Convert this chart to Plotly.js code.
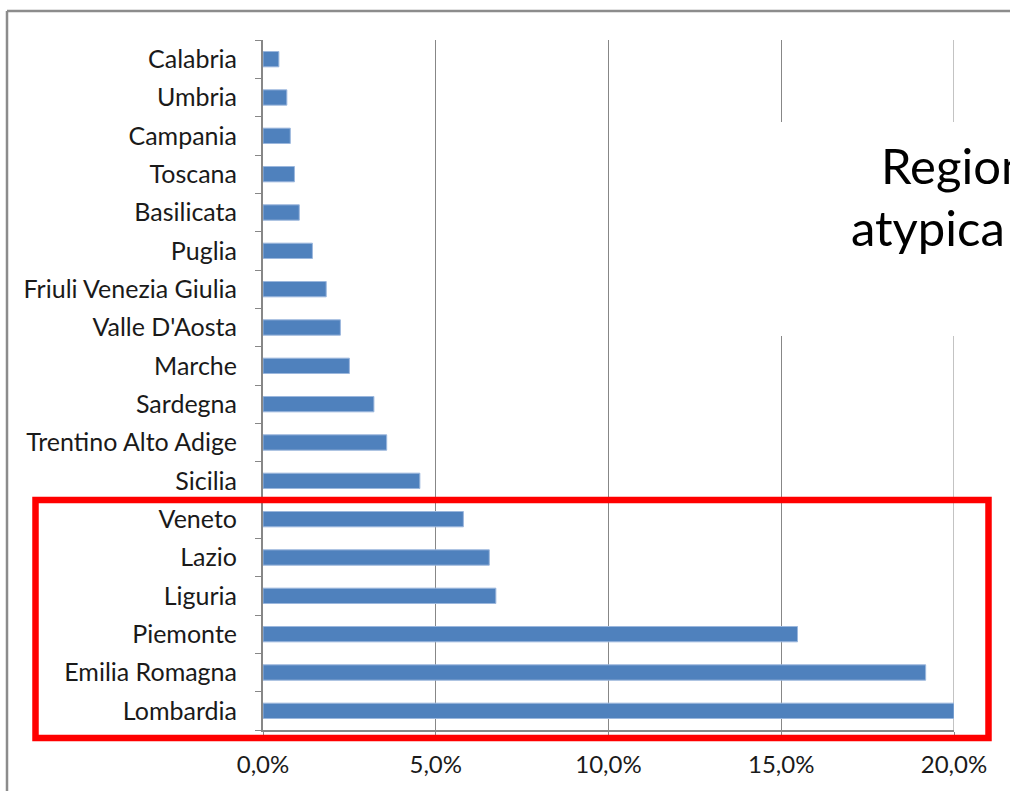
<!DOCTYPE html>
<html>
<head>
<meta charset="utf-8">
<script src="https://cdn.plot.ly/plotly-3.0.1.min.js"></script>
<style>
  html, body { margin: 0; padding: 0; background: #ffffff; }
  #chart { width: 1010px; height: 791px; }
</style>
</head>
<body>
<div id="chart"></div>
<script>
// Regions, listed bottom to top
const regions = [
  "Lombardia", "Emilia Romagna", "Piemonte", "Liguria", "Lazio", "Veneto",
  "Sicilia", "Trentino Alto Adige", "Sardegna", "Marche", "Valle D'Aosta",
  "Friuli Venezia Giulia", "Puglia", "Basilicata", "Toscana", "Campania",
  "Umbria", "Calabria"
];
// Share (fraction)
const shares = [
  0.200, 0.1918, 0.1547, 0.0674, 0.0655, 0.0580,
  0.0454, 0.0358, 0.0321, 0.0250, 0.0224,
  0.0183, 0.0143, 0.0105, 0.0091, 0.0079,
  0.0069, 0.0046
];
const xTicks = [0, 0.05, 0.10, 0.15, 0.20];
const boxLines = ["Regioni", "atypica"];

const W = 691, H = 690, L = 263, TOP = 40;
const px = v => (v - L) / W;
const py = v => (TOP + H - v) / H;

const trace = {
  type: "bar",
  orientation: "h",
  y: regions,
  x: shares,
  marker: { color: "#4f81bd", line: { color: "#9bb7dd", width: 1 } },
  hoverinfo: "none"
};

const font = "Lato, 'Open Sans', sans-serif";
const gridCol = "#878787";

const layout = {
  width: 1010,
  height: 791,
  margin: { l: L, r: 1010 - L - W, t: TOP, b: 791 - TOP - H },
  paper_bgcolor: "#ffffff",
  plot_bgcolor: "#ffffff",
  separators: ",.",
  showlegend: false,
  bargap: 0.6,
  font: { family: font, size: 25, color: "#1a1a1a" },
  xaxis: {
    range: [0, 0.2],
    tickvals: xTicks,
    tickformat: ".1%",
    showgrid: true,
    gridcolor: gridCol,
    gridwidth: 1,
    zeroline: false,
    showline: true,
    linecolor: gridCol,
    linewidth: 1.5,
    ticks: "outside",
    ticklen: 5,
    tickcolor: gridCol,
    ticklabelstandoff: 8,
    tickfont: { family: font, size: 24, color: "#1a1a1a" },
    fixedrange: true
  },
  yaxis: {
    type: "category",
    showgrid: false,
    zeroline: false,
    showline: true,
    linecolor: gridCol,
    linewidth: 2,
    ticks: "outside",
    tickson: "boundaries",
    ticklen: 6,
    tickcolor: gridCol,
    ticklabelstandoff: 19,
    tickfont: { family: font, size: 25, color: "#1a1a1a" },
    fixedrange: true
  },
  shapes: [
    // outer frame (left and top edges)
    { type: "line", xref: "paper", yref: "paper", x0: px(7), x1: px(7), y0: py(800), y1: py(11),
      line: { color: "#8c8c8c", width: 2.5 } },
    { type: "line", xref: "paper", yref: "paper", x0: px(7), x1: px(1020), y0: py(11), y1: py(11),
      line: { color: "#8c8c8c", width: 2.5 } },
    // right-edge (20%) gridline
    { type: "line", xref: "x", yref: "paper", layer: "below", x0: 0.2, x1: 0.2, y0: 0, y1: 1,
      line: { color: gridCol, width: 1 } },
    // white text box covering gridlines
    { type: "rect", xref: "paper", yref: "paper", layer: "above",
      x0: px(650), x1: px(1030), y0: py(336), y1: py(122),
      fillcolor: "#ffffff", line: { width: 0 } },
    // red highlight rectangle
    { type: "rect", xref: "paper", yref: "paper", layer: "above",
      x0: px(35.5), x1: px(988.5), y0: py(738), y1: py(500),
      fillcolor: "rgba(0,0,0,0)", line: { color: "#ff0000", width: 6.5 } }
  ],
  annotations: [
    { xref: "paper", yref: "paper", x: px(879), y: py(165), xanchor: "left", yanchor: "middle",
      text: boxLines[0], showarrow: false, font: { family: font, size: 49, color: "#000000" } },
    { xref: "paper", yref: "paper", x: px(849), y: py(227), xanchor: "left", yanchor: "middle",
      text: boxLines[1], showarrow: false, font: { family: font, size: 49, color: "#000000" } }
  ]
};

Plotly.newPlot("chart", [trace], layout, { displayModeBar: false, staticPlot: true });
</script>
</body>
</html>
